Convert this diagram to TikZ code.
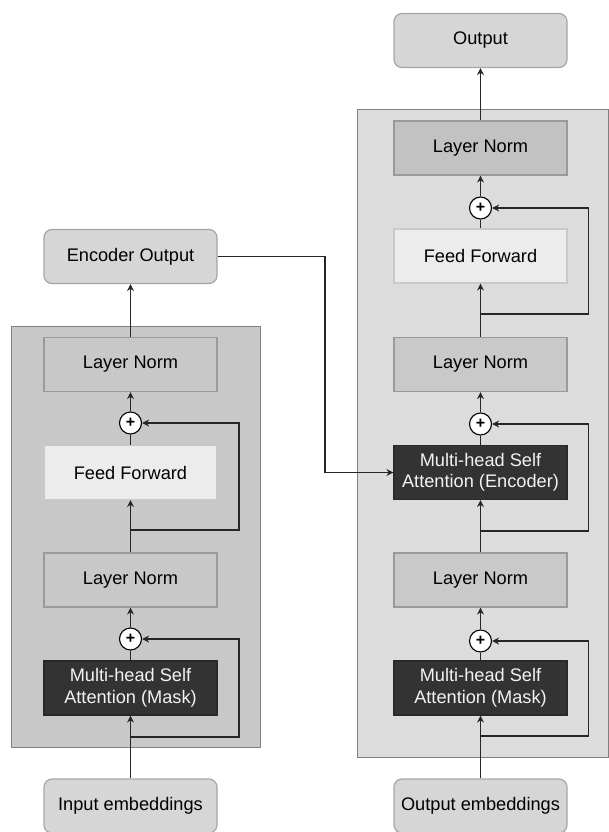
\documentclass[tikz,border=0pt]{standalone}
\usepackage{fontspec}
\setmainfont{Liberation Sans}
\usetikzlibrary{arrows.meta}
\definecolor{panelL}{HTML}{C8C8C8}
\definecolor{panelR}{HTML}{DCDCDC}
\definecolor{lnL}{HTML}{C8C8C8}
\definecolor{lnR}{HTML}{C9C9C9}
\definecolor{lnTop}{HTML}{C2C2C2}
\definecolor{ffc}{HTML}{ECECEC}
\definecolor{mhc}{HTML}{333333}
\definecolor{ioc}{HTML}{D6D6D6}
\definecolor{bordc}{HTML}{9A9A9A}
\begin{document}
\begin{tikzpicture}[x=1pt,y=-1pt,
  every node/.style={font=\fontsize{18.2}{21.5}\selectfont},
  blk/.style={draw=bordc,line width=1.2pt,minimum width=173pt,minimum height=54pt,inner sep=0pt,align=center,text=black},
  lnbox/.style={blk,fill=lnL},
  ffbox/.style={blk,fill=ffc,draw=ffc!85!black},
  mhbox/.style={blk,fill=mhc,draw=mhc!80!black,text=white!95!black},
  iobox/.style={blk,fill=ioc,draw=black!35,rounded corners=8pt},
  addc/.style={circle,draw=black,fill=white,line width=1.1pt,minimum size=22pt,inner sep=0pt,font=\fontsize{16}{16}\selectfont\bfseries},
  panel/.style={line width=1pt,draw=black!50},
  conn/.style={line width=1.2pt,draw=black!85},
  arr/.style={conn,-{Stealth[length=7pt,width=7pt]}}
]
\useasboundingbox (0,0) rectangle (608,832);
% panels
\fill[white] (0,0) rectangle (608,832);
\draw[panel,fill=panelL] (11.5,326.5) rectangle (260,747);
\draw[panel,fill=panelR] (357.5,110) rectangle (608,757);

% encoder
\node[iobox] (eout) at (130.5,256.5) {Encoder Output};
\node[lnbox] (eln2) at (130.5,364.5) {Layer Norm};
\node[addc] (eadd2) at (130.5,423) {+};
\node[ffbox] (eff) at (130.5,472.5) {Feed Forward};
\node[lnbox] (eln1) at (130.5,580) {Layer Norm};
\node[addc] (eadd1) at (130.5,639) {+};
\node[mhbox] (emh) at (130.5,688) {Multi-head Self\\Attention (Mask)};
\node[iobox] (ein) at (130.5,806) {Input embeddings};

% decoder
\node[iobox] (dout) at (480.5,40.5) {Output};
\node[lnbox,fill=lnTop] (dln3) at (480.5,148) {Layer Norm};
\node[addc] (dadd3) at (480.5,208) {+};
\node[ffbox] (dff) at (480.5,256) {Feed Forward};
\node[lnbox,fill=lnR] (dln2) at (480.5,364.5) {Layer Norm};
\node[addc] (dadd2) at (480.5,424) {+};
\node[mhbox] (dmhe) at (480.5,472.5) {Multi-head Self\\Attention (Encoder)};
\node[lnbox,fill=lnR] (dln1) at (480.5,580) {Layer Norm};
\node[addc] (dadd1) at (480.5,641) {+};
\node[mhbox] (dmh) at (480.5,688) {Multi-head Self\\Attention (Mask)};
\node[iobox] (din) at (480.5,806) {Output embeddings};

% encoder connectors
\draw[arr] (ein.north) -- (emh.south);
\coordinate (es1) at (130.5,737);
\draw[arr] (es1) -- (239,737) -- (239,639) -- (eadd1.east);
\draw[conn] (emh.north) -- (eadd1.south);
\draw[arr] (eadd1.north) -- (eln1.south);
\draw[arr] (eln1.north) -- (eff.south);
\coordinate (es2) at (130.5,530);
\draw[arr] (es2) -- (239,530) -- (239,423) -- (eadd2.east);
\draw[conn] (eff.north) -- (eadd2.south);
\draw[arr] (eadd2.north) -- (eln2.south);
\draw[arr] (eln2.north) -- (eout.south);

% decoder connectors
\draw[arr] (din.north) -- (dmh.south);
\coordinate (ds1) at (480.5,736);
\draw[arr] (ds1) -- (588.5,736) -- (588.5,641) -- (dadd1.east);
\draw[conn] (dmh.north) -- (dadd1.south);
\draw[arr] (dadd1.north) -- (dln1.south);
\draw[arr] (dln1.north) -- (dmhe.south);
\coordinate (ds2) at (480.5,531);
\draw[arr] (ds2) -- (588.5,531) -- (588.5,424) -- (dadd2.east);
\draw[conn] (dmhe.north) -- (dadd2.south);
\draw[arr] (dadd2.north) -- (dln2.south);
\draw[arr] (dln2.north) -- (dff.south);
\coordinate (ds3) at (480.5,314);
\draw[arr] (ds3) -- (588.5,314) -- (588.5,208) -- (dadd3.east);
\draw[conn] (dff.north) -- (dadd3.south);
\draw[arr] (dadd3.north) -- (dln3.south);
\draw[arr] (dln3.north) -- (dout.south);

% encoder output to decoder
\draw[arr] (eout.east) -- (325,256.5) -- (325,472.5) -- (dmhe.west);
\end{tikzpicture}
\end{document}
